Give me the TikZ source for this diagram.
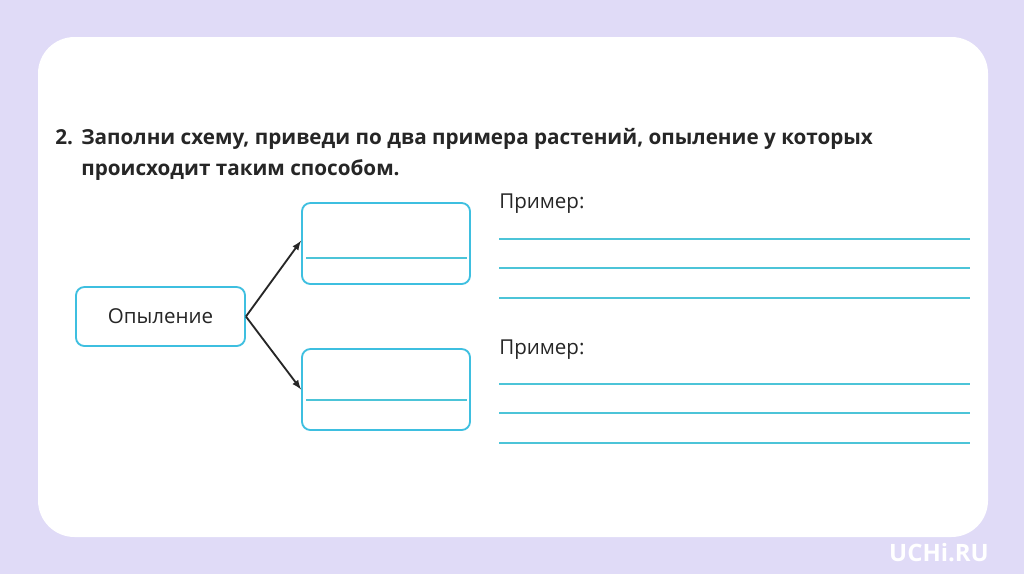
\documentclass[tikz,border=0pt]{standalone}
\usepackage{fontspec}
\setmainfont{Open Sans}
\usetikzlibrary{positioning}

\definecolor{bgviolet}{HTML}{E0DBF7}
\definecolor{boxcyan}{HTML}{3EBFE0}
\definecolor{linecyan}{HTML}{4CC4D8}

\begin{document}
\begin{tikzpicture}[
    x=0.025cm, y=-0.025cm,
    card/.style={draw=boxcyan, line width=1.3pt, rounded corners=6pt, fill=white,
        minimum width=4.2cm, minimum height=2.025cm, inner sep=0pt},
    answer/.style={draw=linecyan, line width=1.2pt},
    title/.style={anchor=base west, inner sep=0pt, font=\fontsize{14.7}{18}\selectfont\bfseries, text=black!85},
    label/.style={anchor=base west, inner sep=0pt, font=\fontsize{14.6}{18}\selectfont, text=black!85},
    arrow/.style={-latex, line width=1.3pt, black!85}
]

% Background and sheet
\fill[bgviolet] (0,0) rectangle (1024,574);
\fill[white, rounded corners=26pt] (38,37) rectangle (988,537);
\useasboundingbox (0,0) rectangle (1024,574);

% Task text
\node[title] (num)    at (55,144.5) {2.};
\node[title] (title1) at (81,144.5) {Заполни схему, приведи по два примера растений, опыление у которых};
\node[title] (title2) at (81,175.5) {происходит таким способом.};

% Scheme boxes
\node[card, label, anchor=center, minimum width=4.225cm, minimum height=1.475cm] (pollen) at (160.5,316.5) {Опыление};
\node[card] (way1) at (386,243.5) {};
\node[card] (way2) at (386,389.5) {};
\draw[answer] (306,258) -- (467,258);
\draw[answer] (306,400) -- (467,400);

% Arrows
\draw[arrow] (pollen.east) -- ([yshift=2pt]way1.west);
\draw[arrow] (pollen.east) -- (way2.west);

% Example lines
\node[label] (ex1) at (499,208) {Пример:};
\node[label] (ex2) at (499,354) {Пример:};
\foreach \y in {239,268,298,384,413,443}{
    \draw[answer] (499,\y) -- (970,\y);
}

% Watermark
\node[font=\fontsize{17}{19}\selectfont\bfseries, text=white, inner sep=0pt] (mark) at (939,553) {UCHi.RU};

\end{tikzpicture}
\end{document}
